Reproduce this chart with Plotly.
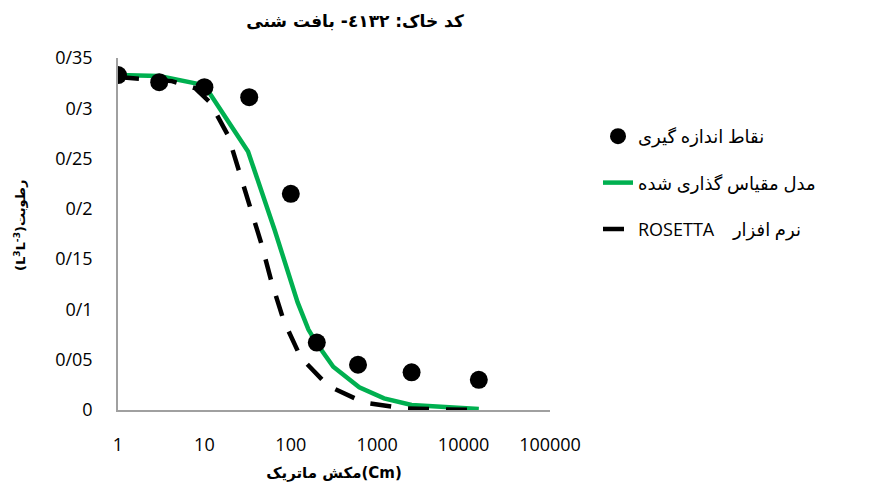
import plotly.graph_objects as go

# Measured points
meas_x = [1, 3, 10, 33, 100, 200, 600, 2500, 15000]
meas_y = [0.333, 0.326, 0.321, 0.311, 0.215, 0.067, 0.045, 0.0375, 0.030]

# Fitted (scaled) model
model_x = [1, 3, 10, 32, 65, 100, 120, 160, 200, 310, 620, 1200, 2500, 15000]
model_y = [0.333, 0.332, 0.323, 0.257, 0.179, 0.129, 0.107, 0.080, 0.066, 0.043, 0.0226, 0.0116, 0.005, 0.001]

# ROSETTA
ros_x = [1, 4.2, 7.8, 11.6, 18.8, 29.5, 45.8, 60, 83, 131, 270, 700, 2100, 6100, 15000]
ros_y = [0.331, 0.327, 0.320, 0.306, 0.273, 0.219, 0.165, 0.127, 0.0885, 0.052, 0.024, 0.0075, 0.0015, 0.0005, 0.0]

y_tickvals = [0, 0.05, 0.1, 0.15, 0.2, 0.25, 0.3, 0.35]
y_ticktext = ["0", "0/05", "0/1", "0/15", "0/2", "0/25", "0/3", "0/35"]
x_tickvals = [1, 10, 100, 1000, 10000, 100000]
x_ticktext = ["1", "10", "100", "1000", "10000", "100000"]

names = ["نقاط اندازه گیری", "مدل مقیاس گذاری شده", "ROSETTA    نرم افزار"]
title_text = "کد خاک: ٤١٣٢- بافت شنی"
x_title = "مکش ماتریک(Cm)"
y_title = "(L<sup>3</sup>L<sup>-3</sup>)رطوبت"

FONT = "Open Sans, DejaVu Sans, sans-serif"

fig = go.Figure()
fig.add_trace(go.Scatter(
    x=model_x, y=model_y, mode="lines", name=names[1], legendrank=2, legendgroup="b",
    line=dict(color="#00b050", width=4.5)))
fig.add_trace(go.Scatter(
    x=ros_x, y=ros_y, mode="lines", name=names[2], legendrank=3, legendgroup="c",
    line=dict(color="black", width=4.5, dash="21px,17px")))
fig.add_trace(go.Scatter(
    x=meas_x, y=meas_y, mode="markers", name=names[0], legendrank=1, legendgroup="a",
    marker=dict(color="black", size=18)))

fig.update_layout(
    width=880, height=495,
    margin=dict(l=118, r=330, t=58, b=85),
    paper_bgcolor="white", plot_bgcolor="white",
    font=dict(family=FONT, color="#000000", size=16),
    title=dict(text="<b>" + title_text + "</b>", x=355/880, xanchor="center",
               y=1 - 21/495, yanchor="middle", font=dict(size=17, family="DejaVu Sans")),
    showlegend=True,
    legend=dict(x=(598-118)/432, xanchor="left", y=(410-118)/352, yanchor="top",
                tracegroupgap=20, font=dict(size=18, family=FONT),
                bgcolor="rgba(0,0,0,0)"),
    annotations=[dict(text="<b>" + y_title + "</b>", textangle=-90,
                      xref="paper", yref="paper", x=(20-118)/432, y=(410-226)/352,
                      xanchor="center", yanchor="middle", showarrow=False,
                      font=dict(size=13, family="DejaVu Sans"))],
)
fig.update_xaxes(type="log", range=[0, 5], tickvals=x_tickvals, ticktext=x_ticktext,
                 showline=True, linecolor="#a0a0a0", linewidth=1.5, showgrid=False,
                 zeroline=False, ticks="", ticklabelstandoff=18,
                 tickfont=dict(size=18, family=FONT),
                 title=dict(text="<b>" + x_title + "</b>", standoff=12,
                            font=dict(size=15, family="DejaVu Sans")))
fig.update_yaxes(range=[0, 0.35], tickvals=y_tickvals, ticktext=y_ticktext,
                 showline=True, linecolor="#a0a0a0", linewidth=1.5, showgrid=False,
                 zeroline=False, ticks="", ticklabelstandoff=20,
                 tickfont=dict(size=18, family=FONT))

fig.write_html("out.html")
